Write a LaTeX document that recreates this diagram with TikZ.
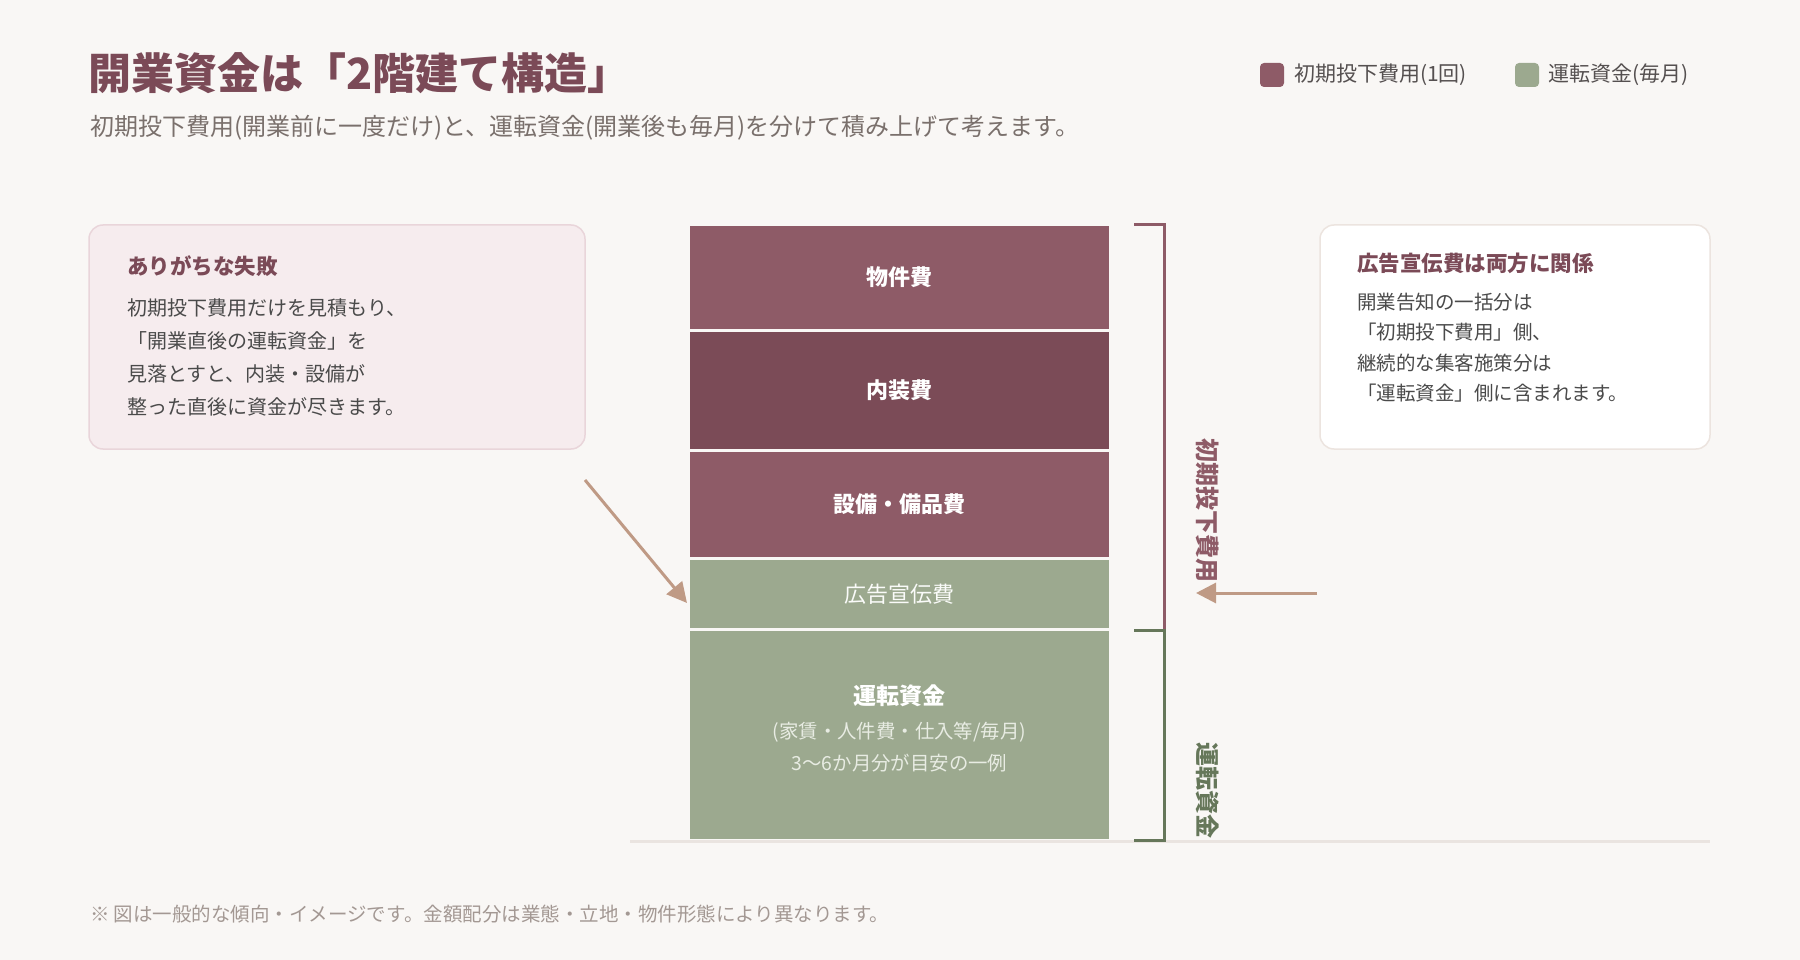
\documentclass[tikz,border=0pt]{standalone}
\usepackage{fontspec}
\setmainfont{Noto Sans CJK JP}
\usetikzlibrary{arrows.meta}
\definecolor{bg}{HTML}{F9F7F5}
\definecolor{titlec}{HTML}{7B4A57}
\definecolor{rose}{HTML}{8E5B67}
\definecolor{rosed}{HTML}{7B4B57}
\definecolor{sage}{HTML}{9CA98F}
\definecolor{sagedark}{HTML}{66775A}
\definecolor{arrowc}{HTML}{BF9A85}
\definecolor{failf}{HTML}{F6ECEE}
\definecolor{failb}{HTML}{E9D5DA}
\definecolor{notef}{HTML}{FFFFFF}
\definecolor{noteb}{HTML}{ECE4DF}
\definecolor{basec}{HTML}{EAE4E0}
\definecolor{subc}{HTML}{7A706C}
\definecolor{bodyc}{HTML}{4A4A4A}
\definecolor{legc}{HTML}{555050}
\definecolor{footc}{HTML}{A39893}
\definecolor{subw}{HTML}{E8ECE3}
\newcommand\fsz[1]{\fontsize{#1}{#1}\selectfont}
\begin{document}
\begin{tikzpicture}[x=1pt,y=-1pt,
  every node/.style={inner sep=0pt, outer sep=0pt},
  txt/.style={anchor=west, font=\fsz{20}, text=bodyc},
  blk/.style={minimum width=419pt, minimum height=#1, text=white},
  legsq/.style={minimum size=24pt, rounded corners=4pt},
  arr/.style={draw=arrowc, line width=3pt, -{Triangle[length=20pt,width=20pt]}},
  brk/.style={line width=3pt, line join=miter}
]
\useasboundingbox (0,0) rectangle (1800,960);
\fill[bg] (0,0) rectangle (1800,960);

% title
\node[anchor=west, font=\fsz{43}\bfseries, text=titlec] (title) at (88,73) {開業資金は「2階建て構造」};
\node[anchor=west, font=\fsz{24}, text=subc] (subtitle) at (90,128) {初期投下費用(開業前に一度だけ)と、運転資金(開業後も毎月)を分けて積み上げて考えます。};

% legend
\node[legsq, fill=rose] (leg1) at (1272,75) {};
\node[anchor=west, font=\fsz{21}, text=legc] (leg1t) at (1294,75) {初期投下費用(1回)};
\node[legsq, fill=sage] (leg2) at (1527,75) {};
\node[anchor=west, font=\fsz{21}, text=legc] (leg2t) at (1548,75) {運転資金(毎月)};

% left note
\node[draw=failb, fill=failf, line width=1.5pt, rounded corners=14pt, minimum width=496pt, minimum height=224pt, anchor=north west] (failbox) at (89,225) {};
\node[anchor=west, font=\fsz{21.5}\bfseries, text=titlec] (failtitle) at (127,266) {ありがちな失敗};
\node[txt] (fail1) at (127,308) {初期投下費用だけを見積もり、};
\node[txt] (fail2) at (127,341) {「開業直後の運転資金」を};
\node[txt] (fail3) at (127,374) {見落とすと、内装・設備が};
\node[txt] (fail4) at (127,407) {整った直後に資金が尽きます。};

% right note
\node[draw=noteb, fill=notef, line width=1.5pt, rounded corners=14pt, minimum width=390pt, minimum height=224pt, anchor=north west] (notebox) at (1320,225) {};
\node[anchor=west, font=\fsz{21.5}\bfseries, text=titlec] (notetitle) at (1357,263.5) {広告宣伝費は両方に関係};
\node[txt, font=\fsz{19.5}] (note1) at (1357,302.5) {開業告知の一括分は};
\node[txt, font=\fsz{19.5}] (note2) at (1357,332.5) {「初期投下費用」側、};
\node[txt, font=\fsz{19.5}] (note3) at (1357,363) {継続的な集客施策分は};
\node[txt, font=\fsz{19.5}] (note4) at (1357,393) {「運転資金」側に含まれます。};

% base line
\draw[basec, line width=3pt] (630,841) -- (1710,841);

% stack
\node[blk=103pt, fill=rose, font=\fsz{22}\bfseries] (b1) at (899.5,277.5) {物件費};
\node[blk=117pt, fill=rosed, font=\fsz{22}\bfseries] (b2) at (899.5,390.5) {内装費};
\node[blk=105pt, fill=rose, font=\fsz{22}\bfseries] (b3) at (899.5,504.5) {設備・備品費};
\node[blk=68pt, fill=sage, font=\fsz{22}, text=white!95!sage] (b4) at (899.5,594) {広告宣伝費};
\node[blk=208pt, fill=sage] (b5) at (899.5,735) {};
\node[font=\fsz{23}\bfseries, text=white] (b5t) at (899.5,696) {運転資金};
\node[font=\fsz{19.4}, text=subw] (b5s1) at (899.5,732.5) {(家賃・人件費・仕入等/毎月)};
\node[font=\fsz{19.4}, text=subw] (b5s2) at (899.5,763) {3〜6か月分が目安の一例};

% brackets
\draw[brk, rose] (1134,225) -- (1164,225) -- (1164,630);
\draw[brk, sagedark] (1134,630) -- (1164,630) -- (1164,840) -- (1134,840);
\node[rotate=-90, font=\fsz{24}\bfseries, text=rose] (lab1) at (1208,510) {初期投下費用};
\node[rotate=-90, font=\fsz{24}\bfseries, text=sagedark] (lab2) at (1208,790) {運転資金};

% arrows
\coordinate (a1s) at (585,480);
\coordinate (a1e) at (687,603);
\draw[arr] (a1s) -- (a1e);
\coordinate (a2s) at (1317,593);
\coordinate (a2e) at (1196,593);
\draw[arr] (a2s) -- (a2e);

% footnote
\node[anchor=west, font=\fsz{19.5}, text=footc] (foot) at (90,914) {※ 図は一般的な傾向・イメージです。金額配分は業態・立地・物件形態により異なります。};
\end{tikzpicture}
\end{document}
